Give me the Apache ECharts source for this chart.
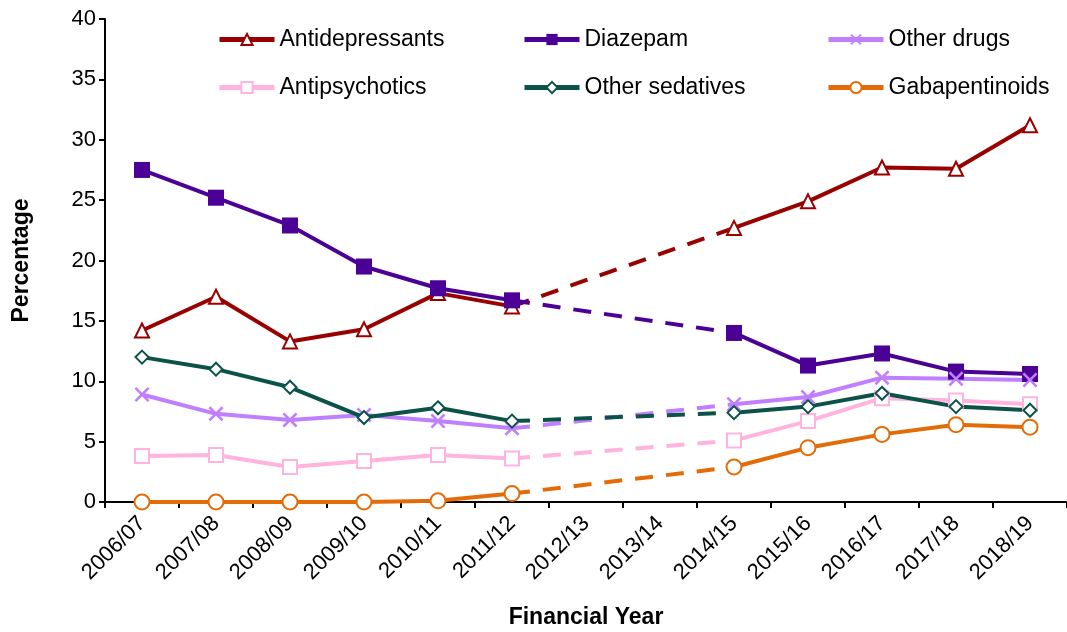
<!DOCTYPE html>
<html>
<head>
<meta charset="utf-8">
<script src="https://cdn.jsdelivr.net/npm/echarts@6/dist/echarts.min.js"></script>
<style>
  html, body { margin: 0; padding: 0; background: #fff; }
  #chart { width: 1067px; height: 632px; }
</style>
</head>
<body>
<div id="chart"></div>
<script>
// financial years on the x axis (2012/13 and 2013/14 have no data)
var years = ["2006/07", "2007/08", "2008/09", "2009/10", "2010/11", "2011/12",
  "2012/13", "2013/14", "2014/15", "2015/16", "2016/17", "2017/18", "2018/19"];
var yTicks = [0, 5, 10, 15, 20, 25, 30, 35, 40];

// percentages, null = no data
var antidepressants = [14.2, 17.0, 13.3, 14.3, 17.3, 16.2, null, null, 22.7, 24.9, 27.7, 27.6, 31.2];
var diazepam        = [27.5, 25.2, 22.9, 19.5, 17.7, 16.7, null, null, 14.0, 11.3, 12.3, 10.8, 10.6];
var otherDrugs      = [8.9, 7.3, 6.8, 7.2, 6.7, 6.1, null, null, 8.1, 8.7, 10.3, 10.2, 10.1];
var antipsychotics  = [3.8, 3.9, 2.9, 3.4, 3.9, 3.6, null, null, 5.1, 6.7, 8.6, 8.4, 8.1];
var otherSedatives  = [12.0, 11.0, 9.5, 7.0, 7.8, 6.7, null, null, 7.4, 7.9, 9.0, 7.9, 7.6];
var gabapentinoids  = [0.0, 0.0, 0.0, 0.0, 0.1, 0.7, null, null, 2.9, 4.5, 5.6, 6.4, 6.2];

var xPath = "path://M0,1.2 L1.2,0 L5,3.8 L8.8,0 L10,1.2 L6.2,5 L10,8.8 L8.8,10 L5,6.2 L1.2,10 L0,8.8 L3.8,5 Z";

var drugs = [
  { name: "Antidepressants", data: antidepressants, color: "#990000", symbol: "triangle", size: 14, hollow: true },
  { name: "Diazepam", data: diazepam, color: "#4B0096", symbol: "rect", size: 16, hollow: false },
  { name: "Other drugs", data: otherDrugs, color: "#BF7FFF", symbol: xPath, size: 15, hollow: false },
  { name: "Antipsychotics", data: antipsychotics, color: "#FFB3DE", symbol: "rect", size: 14, hollow: true },
  { name: "Other sedatives", data: otherSedatives, color: "#0B5249", symbol: "diamond", size: 13, hollow: true },
  { name: "Gabapentinoids", data: gabapentinoids, color: "#E36C09", symbol: "circle", size: 15, hollow: true }
];

// legend slots: [left, top]
var legendPos = [[217, 28], [522, 28], [826, 28], [217, 76], [522, 76], [826, 76]];

// dashed bridge over the gap years: only 2011/12 and 2014/15
function bridge(arr) {
  return arr.map(function (v, i) { return (i === 5 || i === 8) ? v : null; });
}

var series = [];
drugs.forEach(function (d) {
  series.push({
    name: d.name,
    type: "line",
    data: d.data,
    connectNulls: false,
    symbol: d.symbol,
    symbolSize: d.size,
    showAllSymbol: true,
    lineStyle: { color: d.color, width: 4 },
    itemStyle: {
      color: d.hollow ? "#ffffff" : d.color,
      borderColor: d.color,
      borderWidth: d.hollow ? 2 : 0
    },
    emphasis: { disabled: true },
    animation: false
  });
});
drugs.forEach(function (d) {
  series.push({
    name: d.name + " gap",
    type: "line",
    data: bridge(d.data),
    connectNulls: true,
    symbol: "none",
    lineStyle: { color: d.color, width: 4, type: [18, 13] },
    emphasis: { disabled: true },
    animation: false,
    z: 1
  });
});

var legends = drugs.map(function (d, i) {
  return {
    data: [d.name],
    left: legendPos[i][0],
    top: legendPos[i][1],
    padding: 0,
    itemWidth: 55,
    itemHeight: 14,
    selectedMode: false,
    lineStyle: { width: 5 },
    textStyle: { fontFamily: "Liberation Sans, Arial", fontSize: 23, color: "#000" }
  };
});

var chart = echarts.init(document.getElementById("chart"));
chart.setOption({
  animation: false,
  legend: legends,
  grid: { left: 105, right: 0, top: 19, bottom: 130, containLabel: false, outerBoundsMode: "none" },
  xAxis: {
    type: "category",
    data: years,
    boundaryGap: true,
    name: "Financial Year",
    nameLocation: "middle",
    nameGap: 104,
    nameTextStyle: { fontFamily: "Liberation Sans, Arial", fontSize: 23, fontWeight: "bold", color: "#000" },
    axisLine: { lineStyle: { color: "#000", width: 2 } },
    axisTick: { show: true, interval: 0, length: 6, lineStyle: { color: "#000", width: 2 } },
    axisLabel: {
      interval: 0,
      rotate: 45,
      margin: 18,
      fontFamily: "Liberation Sans, Arial",
      fontSize: 22,
      color: "#000"
    },
    splitLine: { show: false }
  },
  yAxis: {
    type: "value",
    min: yTicks[0],
    max: yTicks[yTicks.length - 1],
    interval: 5,
    name: "Percentage",
    nameLocation: "middle",
    nameGap: 72,
    nameTextStyle: { fontFamily: "Liberation Sans, Arial", fontSize: 23, fontWeight: "bold", color: "#000" },
    axisLine: { show: true, lineStyle: { color: "#000", width: 2 } },
    axisTick: { show: true, length: 6, lineStyle: { color: "#000", width: 2 } },
    axisLabel: { margin: 9, fontFamily: "Liberation Sans, Arial", fontSize: 22, color: "#000" },
    splitLine: { show: false }
  },
  series: series
});
</script>
</body>
</html>
